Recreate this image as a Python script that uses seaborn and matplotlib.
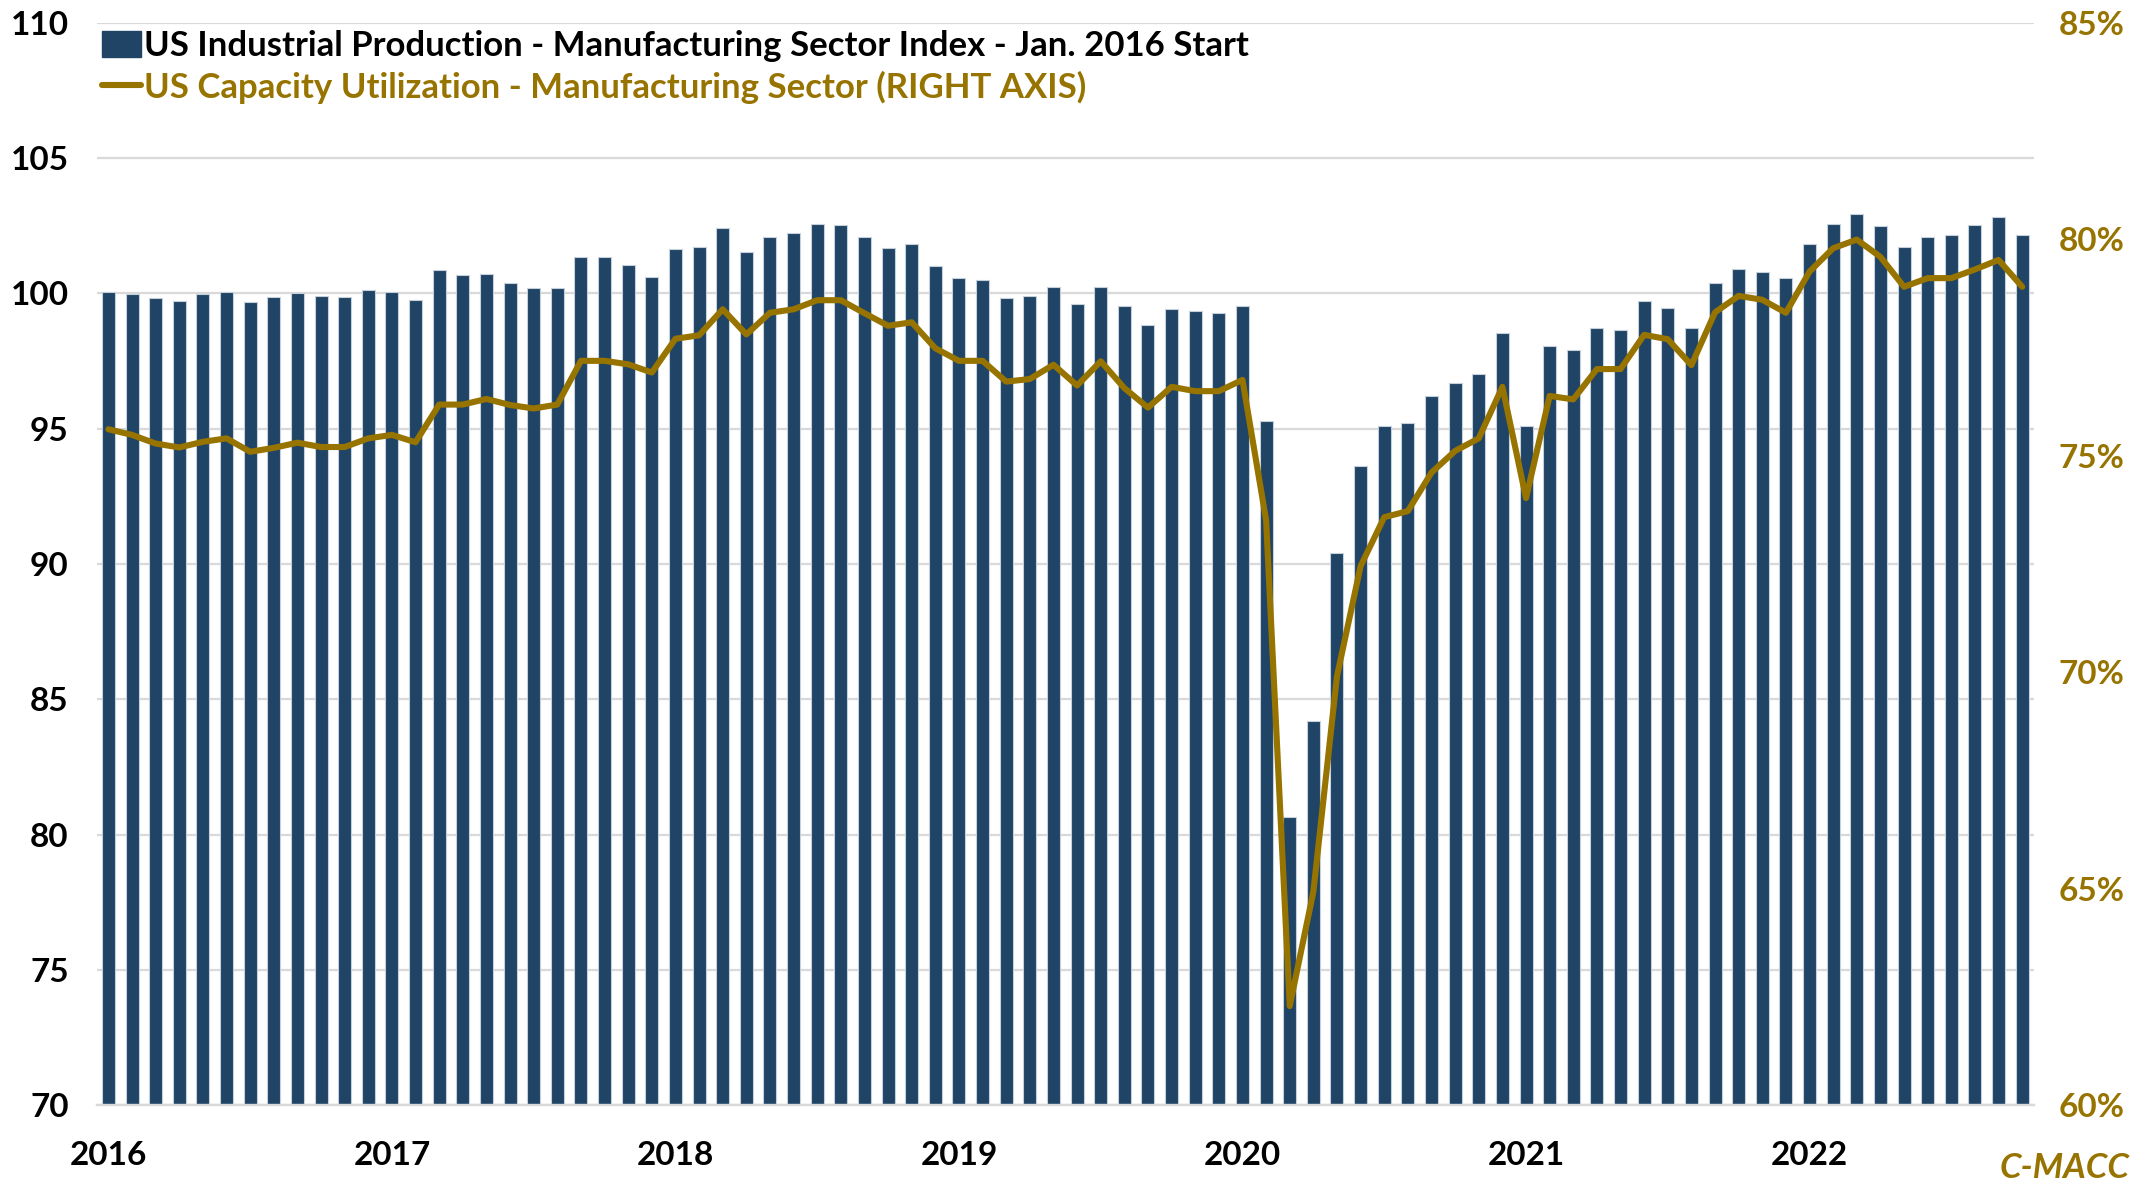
import numpy as np
import pandas as pd
import matplotlib
matplotlib.use("Agg")
import matplotlib.pyplot as plt
import seaborn as sns
from matplotlib.patches import Patch
from matplotlib.lines import Line2D
from matplotlib.ticker import FuncFormatter, NullFormatter

# --- Data ---
months = pd.date_range("2016-01-01", periods=82, freq="MS")

production = [
    100.06, 99.99, 99.82, 99.73, 99.96, 100.06, 99.69, 99.88, 100.02, 99.91, 99.88, 100.11,
    100.06, 99.77, 100.87, 100.69, 100.73, 100.39, 100.21, 100.21, 101.33, 101.33, 101.03, 100.62,
    101.63, 101.70, 102.40, 101.51, 102.09, 102.22, 102.55, 102.51, 102.09, 101.66, 101.81, 100.99,
    100.58, 100.48, 99.84, 99.91, 100.25, 99.62, 100.25, 99.54, 98.81, 99.43, 99.35, 99.29,
    99.54, 95.29, 80.65, 84.19, 90.39, 93.63, 95.09, 95.20, 96.21, 96.69, 97.03, 98.55,
    95.09, 98.07, 97.91, 98.73, 98.66, 99.73, 99.47, 98.73, 100.39, 100.91, 100.80, 100.55,
    101.81, 102.55, 102.92, 102.48, 101.70, 102.07, 102.17, 102.51, 102.81, 102.17,
]

utilization = [
    75.61, 75.48, 75.28, 75.19, 75.32, 75.40, 75.09, 75.18, 75.30, 75.20, 75.20, 75.40,
    75.48, 75.31, 76.18, 76.18, 76.31, 76.17, 76.09, 76.18, 77.19, 77.19, 77.11, 76.92,
    77.70, 77.78, 78.38, 77.80, 78.30, 78.38, 78.59, 78.59, 78.29, 78.00, 78.08, 77.48,
    77.19, 77.19, 76.71, 76.77, 77.10, 76.62, 77.18, 76.56, 76.11, 76.59, 76.49, 76.49,
    76.75, 73.51, 62.29, 64.93, 69.91, 72.45, 73.58, 73.72, 74.61, 75.11, 75.40, 76.59,
    74.02, 76.38, 76.30, 77.00, 77.00, 77.79, 77.69, 77.09, 78.31, 78.69, 78.60, 78.30,
    79.25, 79.79, 79.99, 79.59, 78.90, 79.10, 79.10, 79.30, 79.52, 78.90,
]

year_labels = ["2016", "2017", "2018", "2019", "2020", "2021", "2022"]

bar_label = "US Industrial Production - Manufacturing Sector Index - Jan. 2016 Start"
line_label = "US Capacity Utilization - Manufacturing Sector (RIGHT AXIS)"

NAVY = "#1f4466"
GOLD = "#977300"
GRID = "#d9d9d9"

df = pd.DataFrame({
    "month": months.strftime("%Y-%m"),
    "production": production,
    "utilization": utilization,
})
df["pos"] = np.arange(len(df))

sns.set_theme(style="white")
plt.rcParams["font.family"] = ["Lato", "DejaVu Sans"]
plt.rcParams["font.weight"] = "bold"

fig = plt.figure(figsize=(21.51, 11.91), dpi=100)
ax = fig.add_axes([0.0449, 0.072, 0.9007, 0.909])

sns.barplot(data=df, x="month", y="production", color=NAVY, saturation=1,
            width=0.55, edgecolor="#c5d0db", linewidth=0.8, ax=ax, zorder=2)
ax.set_ylim(70, 110)
ax.set_yticks(range(70, 111, 5))
ax.grid(axis="y", color=GRID, linewidth=1.6)
ax.set_axisbelow(True)
ax.set_xlabel("")
ax.set_ylabel("")

ax2 = ax.twinx()
sns.lineplot(data=df, x="pos", y="utilization", color=GOLD, linewidth=4.4, ax=ax2, zorder=3)
ax2.set_ylim(60, 85)
ax2.set_yticks(range(60, 86, 5))
ax2.yaxis.set_major_formatter(FuncFormatter(lambda v, _: f"{v:.0f}%"))
ax2.set_ylabel("")
ax2.grid(False)

# year boundaries as tick marks, labels centred on the January bar
ax.set_xlim(-0.5, len(df) - 0.5)
ax.set_xticks(np.arange(0, len(df), 12) - 0.5)
ax.xaxis.set_major_formatter(NullFormatter())
ax.set_xticks(np.arange(0, len(df), 12), minor=True)
ax.set_xticklabels(year_labels, minor=True)

for a in (ax, ax2):
    for s in ("left", "right", "top"):
        a.spines[s].set_visible(False)
    a.spines["bottom"].set_color(GRID)
    a.spines["bottom"].set_linewidth(1.6)

ax.tick_params(axis="x", which="major", length=12, width=1.4, color=GRID)
ax.tick_params(axis="x", which="minor", length=0, pad=26, labelsize=24, labelcolor="black")
ax.tick_params(axis="y", length=0, pad=20, labelsize=24, labelcolor="black")
ax2.tick_params(axis="y", length=0, pad=18, labelsize=24, labelcolor=GOLD)

handles = [Patch(facecolor=NAVY, edgecolor=NAVY),
           Line2D([], [], color=GOLD, linewidth=4.4)]
leg = ax2.legend(handles, [bar_label, line_label], loc="upper left",
                 bbox_to_anchor=(0.003, 0.993), frameon=False, fontsize=25,
                 handlelength=1.1, handleheight=0.8, handletextpad=0.1,
                 borderaxespad=0, labelspacing=0.25, borderpad=0)
leg.get_texts()[0].set_color("black")
leg.get_texts()[1].set_color(GOLD)

fig.text(0.99, 0.006, "C-MACC", ha="right", va="bottom", color=GOLD,
         style="italic", weight="bold", fontsize=25)

fig.savefig("out.png", dpi=100)
